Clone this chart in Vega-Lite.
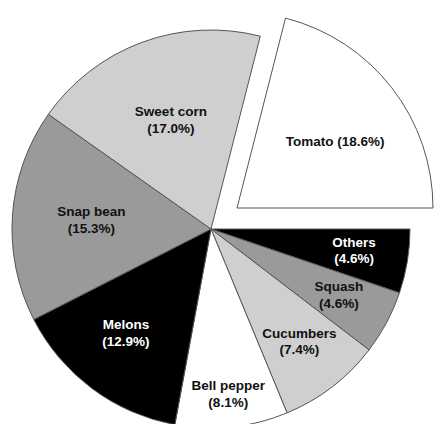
{
  "$schema": "https://vega.github.io/schema/vega-lite/v6.json",
  "width": 422,
  "height": 390,
  "autosize": {"type": "none"},
  "padding": {"left": 0, "top": 34, "right": 12, "bottom": 0},
  "background": "white",
  "config": {"view": {"stroke": null}},
  "data": {
    "values": [
      {"crop": "Others", "value": 4.6, "order": 1, "label": "Others\n(4.6%)"},
      {"crop": "Squash", "value": 4.6, "order": 2, "label": "Squash\n(4.6%)"},
      {"crop": "Cucumbers", "value": 7.4, "order": 3, "label": "Cucumbers\n(7.4%)"},
      {"crop": "Bell pepper", "value": 8.1, "order": 4, "label": "Bell pepper\n(8.1%)"},
      {"crop": "Melons", "value": 12.9, "order": 5, "label": "Melons\n(12.9%)"},
      {"crop": "Snap bean", "value": 15.3, "order": 6, "label": "Snap bean\n(15.3%)"},
      {"crop": "Sweet corn", "value": 17.0, "order": 7, "label": "Sweet corn\n(17.0%)"},
      {"crop": "Tomato", "value": 18.6, "order": 8, "label": "Tomato (18.6%)"}
    ]
  },
  "encoding": {
    "theta": {"field": "value", "type": "quantitative", "stack": true,
      "scale": {"domain": [0, 88.5], "range": [1.5707963, 7.8539816]}},
    "order": {"field": "order", "type": "quantitative", "sort": "ascending"}
  },
  "layer": [
    {
      "mark": {"type": "arc", "radius": 199, "stroke": "#555555", "strokeWidth": 1},
      "encoding": {
        "color": {"field": "crop", "type": "nominal", "legend": null,
          "scale": {"domain": ["Others", "Squash", "Cucumbers", "Bell pepper", "Melons", "Snap bean", "Sweet corn", "Tomato"],
                    "range": ["#000000", "#9a9a9a", "#cfcfcf", "#ffffff", "#000000", "#9a9a9a", "#cfcfcf", "#ffffff"]}},
        "opacity": {"condition": {"test": "datum.crop === 'Tomato'", "value": 0}, "value": 1}
      }
    },
    {
      "mark": {"type": "arc", "radius": 196, "stroke": "#555555", "strokeWidth": 1, "xOffset": 26, "yOffset": -21},
      "encoding": {
        "color": {"field": "crop", "type": "nominal", "legend": null},
        "opacity": {"condition": {"test": "datum.crop === 'Tomato'", "value": 1}, "value": 0}
      }
    },
    {
      "mark": {"type": "text", "radius": 145, "font": "Liberation Sans", "fontWeight": "bold", "fontSize": 13.5, "lineBreak": "\n", "lineHeight": 16.5, "align": "center", "baseline": "middle", "yOffset": -10},
      "encoding": {
        "text": {"condition": {"test": "indexof(['Others','Squash','Cucumbers'], datum.crop) >= 0", "field": "label"}, "value": ""},
        "color": {"condition": {"test": "datum.crop === 'Others'", "value": "#ffffff"}, "value": "#111111"}
      }
    },
    {
      "mark": {"type": "text", "radius": 165, "font": "Liberation Sans", "fontWeight": "bold", "fontSize": 13.5, "lineBreak": "\n", "lineHeight": 16.5, "align": "center", "baseline": "middle", "yOffset": -7},
      "encoding": {
        "text": {"condition": {"test": "datum.crop === 'Bell pepper'", "field": "label"}, "value": ""},
        "color": {"value": "#111111"}
      }
    },
    {
      "mark": {"type": "text", "radius": 134, "font": "Liberation Sans", "fontWeight": "bold", "fontSize": 13.5, "lineBreak": "\n", "lineHeight": 16.5, "align": "center", "baseline": "middle", "xOffset": -5, "yOffset": -11},
      "encoding": {
        "text": {"condition": {"test": "datum.crop === 'Melons'", "field": "label"}, "value": ""},
        "color": {"value": "#ffffff"}
      }
    },
    {
      "mark": {"type": "text", "radius": 124, "font": "Liberation Sans", "fontWeight": "bold", "fontSize": 13.5, "lineBreak": "\n", "lineHeight": 16.5, "align": "center", "baseline": "middle", "xOffset": 4, "yOffset": -8},
      "encoding": {
        "text": {"condition": {"test": "datum.crop === 'Snap bean'", "field": "label"}, "value": ""},
        "color": {"value": "#111111"}
      }
    },
    {
      "mark": {"type": "text", "radius": 116, "font": "Liberation Sans", "fontWeight": "bold", "fontSize": 13.5, "lineBreak": "\n", "lineHeight": 16.5, "align": "center", "baseline": "middle", "yOffset": -8},
      "encoding": {
        "text": {"condition": {"test": "datum.crop === 'Sweet corn'", "field": "label"}, "value": ""},
        "color": {"value": "#111111"}
      }
    },
    {
      "mark": {"type": "text", "radius": 118, "font": "Liberation Sans", "fontWeight": "bold", "fontSize": 13.5, "align": "center", "baseline": "middle", "xOffset": 31, "yOffset": -15},
      "encoding": {
        "text": {"condition": {"test": "datum.crop === 'Tomato'", "field": "label"}, "value": ""},
        "color": {"value": "#111111"}
      }
    }
  ]
}
